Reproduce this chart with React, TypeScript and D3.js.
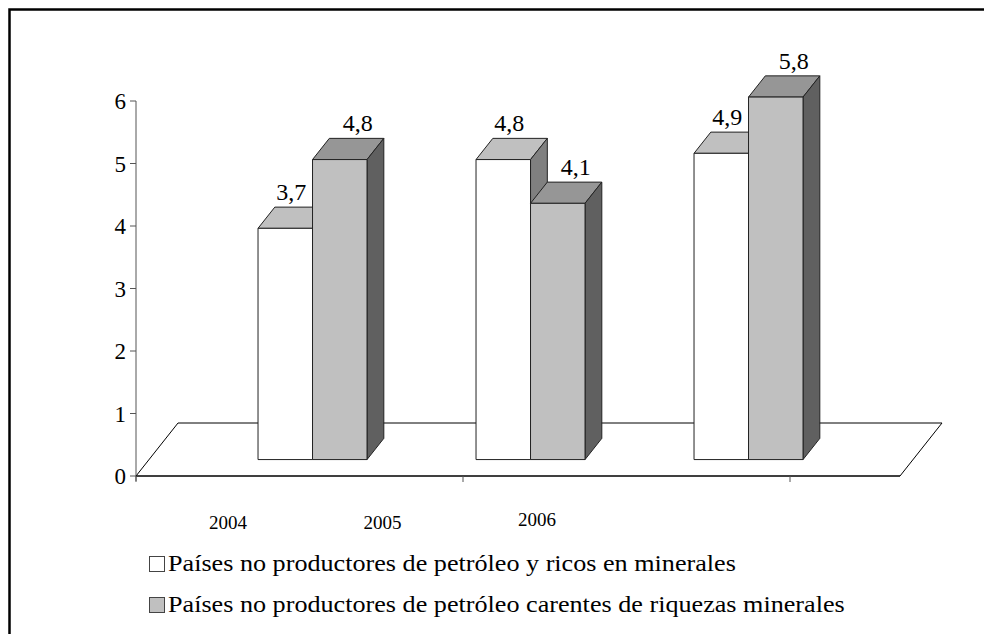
import React from "react";
import * as d3 from "d3";

// chart data
const years = ["2004", "2005", "2006"];
const seriesNames = [
  "Países no productores de petróleo y ricos en minerales",
  "Países no productores de petróleo carentes de riquezas minerales",
];
const ricos = [3.7, 4.8, 4.9];
const carentes = [4.8, 4.1, 5.8];
const yTicks = [0, 1, 2, 3, 4, 5, 6];
const categoryTicks = [0, 1, 2];

// face colours: front, top, side
const palette = [
  ["#ffffff", "#c0c0c0", "#808080"],
  ["#c0c0c0", "#969696", "#606060"],
];

const W = 984;
const H = 634;
const FONT = "Liberation Serif";

// 3d floor depth and bar placement inside it
const floorDx = 42;
const floorDy = 53;
const barFront = 0.31;
const barDepth = 0.4;

const fmt = (v: number) => d3.format(".1f")(v).replace(".", ",");

export default function App() {
  if (typeof document !== "undefined") document.body.style.margin = "0";

  const y = d3.scaleLinear().domain([0, 6]).range([476, 101]);
  const floorX = d3.scaleLinear().domain([0, 1]).range([136, 900]);
  const tickX = d3.scaleLinear().domain([0, 1]).range([136, 463]);
  const x = d3.scaleBand<string>().domain(years).range([245, 790]).paddingInner(0.5).paddingOuter(0);
  const xs = d3.scaleBand<number>().domain([0, 1]).range([0, x.bandwidth()]);
  const labelX = d3.scalePoint<string>().domain(years).range([228, 537]);

  const offX = floorDx * barFront;
  const offY = floorDy * barFront;
  const dX = floorDx * barDepth;
  const dY = floorDy * barDepth;

  const x0 = floorX(0);
  const x1 = floorX(1);
  const y0 = y(0);
  const floorPts = [
    [x0, y0],
    [x0 + floorDx, y0 - floorDy],
    [x1 + floorDx, y0 - floorDy],
    [x1, y0],
  ];

  const values = [ricos, carentes];
  const labelShift = [6, 18];

  const bars: React.ReactNode[] = [];
  const labels: React.ReactNode[] = [];
  years.forEach((yr, i) => {
    values.forEach((vals, s) => {
      const v = vals[i];
      const bx = (x(yr) as number) + (xs(s) as number) + offX;
      const bw = xs.bandwidth();
      const base = y(0) - offY;
      const top = y(v) - offY;
      const [cFront, cTop, cSide] = palette[s];
      const topPts = `${bx},${top} ${bx + dX},${top - dY} ${bx + bw + dX},${top - dY} ${bx + bw},${top}`;
      const sidePts = `${bx + bw},${top} ${bx + bw + dX},${top - dY} ${bx + bw + dX},${base - dY} ${bx + bw},${base}`;
      bars.push(
        <g key={`${yr}-${s}`} stroke="#222" strokeWidth={1} strokeLinejoin="round">
          <polygon points={topPts} fill={cTop} />
          <polygon points={sidePts} fill={cSide} />
          <rect x={bx} y={top} width={bw} height={base - top} fill={cFront} />
        </g>
      );
      labels.push(
        <text
          key={`l-${yr}-${s}`}
          x={bx + bw / 2 + labelShift[s]}
          y={top - dY - 7}
          textAnchor="middle"
          fontSize={24}
          fontFamily={FONT}
          fill="#000"
        >
          {fmt(v)}
        </text>
      );
    });
  });

  return (
    <svg width={W} height={H} style={{ display: "block", background: "#fff" }}>
      <rect x={9.5} y={9.5} width={1200} height={900} fill="#fff" stroke="#000" strokeWidth={2.5} />

      {/* floor */}
      <polygon
        points={floorPts.map((p) => p.join(",")).join(" ")}
        fill="#fff"
        stroke="#000"
        strokeWidth={1}
      />

      {/* value axis */}
      <line x1={x0} x2={x0} y1={y(6)} y2={y0 + 5} stroke="#555" strokeWidth={1} />
      {yTicks.map((t) => (
        <g key={t}>
          <line x1={x0 - 6} x2={x0} y1={y(t)} y2={y(t)} stroke="#555" strokeWidth={1} />
          <text
            x={x0 - 10}
            y={y(t)}
            dy="0.35em"
            textAnchor="end"
            fontSize={23}
            fontFamily={FONT}
            fill="#000"
          >
            {t}
          </text>
        </g>
      ))}

      {/* category axis */}
      <line x1={x0} x2={x1} y1={y0} y2={y0} stroke="#000" strokeWidth={1.2} />
      {categoryTicks.map((t) => (
        <line key={t} x1={tickX(t)} x2={tickX(t)} y1={y0} y2={y0 + 6} stroke="#555" strokeWidth={1} />
      ))}

      {bars}
      {labels}

      {years.map((yr, i) => (
        <text
          key={yr}
          x={labelX(yr)}
          y={i === years.length - 1 ? 526 : 529}
          textAnchor="middle"
          fontSize={19}
          fontFamily={FONT}
          fill="#000"
        >
          {yr}
        </text>
      ))}

      {/* legend */}
      {seriesNames.map((name, s) => (
        <g key={name} transform={`translate(149, ${556 + s * 41})`}>
          <rect x={0.5} y={0.5} width={15} height={15} fill={palette[s][0]} stroke="#444" strokeWidth={1} />
          <text transform="translate(19, 15) scale(1.09, 1)" fontSize={24} fontFamily={FONT} fill="#000">
            {name}
          </text>
        </g>
      ))}
    </svg>
  );
}
